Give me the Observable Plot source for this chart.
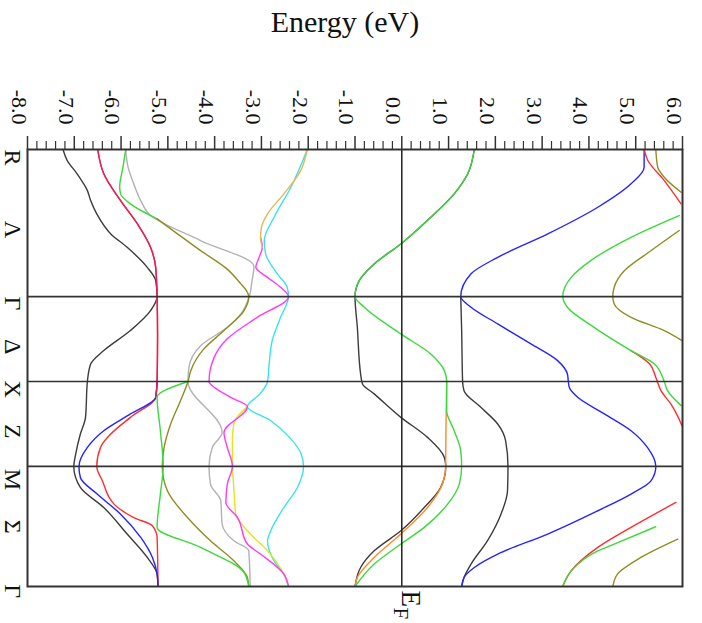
<!DOCTYPE html>
<html><head><meta charset="utf-8">
<script src="https://cdn.jsdelivr.net/npm/d3@7"></script>
<script src="https://cdn.jsdelivr.net/npm/@observablehq/plot@0.6"></script>
<style>body{margin:0;background:#fff}</style>
</head><body><div id="chart"></div>
<script>
// ---- k-path (units of 2π/a): R, Γ, X, M, Γ ----
const kLines = [0.866, 1.366, 1.866];
const kEnd = 2.573;
const kLabelNames = ["R","Λ","Γ","Δ","X","Z","M","Σ","Γ"];
const kLabelPos = [0, 0.42, 0.866, 1.116, 1.36, 1.616, 1.88, 2.18, 2.56];
const energyTicks = [-8,-7,-6,-5,-4,-3,-2,-1,0,1,2,3,4,5,6];
const title = "Energy (eV)";

// ---- bands: [k, E(eV)] ----
const blackLow = [[0,-7.24],[0.065,-7.15],[0.143,-6.94],[0.242,-6.72],[0.301,-6.65],[0.379,-6.52],[0.497,-6.22],[0.576,-5.87],[0.694,-5.44],[0.772,-5.26],[0.866,-5.23],[0.949,-5.37],[1.066,-5.80],[1.184,-6.37],[1.263,-6.65],[1.366,-6.72],[1.577,-6.76],[1.675,-6.87],[1.793,-6.97],[1.866,-7.01],[1.990,-6.87],[2.108,-6.37],[2.264,-5.87],[2.402,-5.44],[2.500,-5.23],[2.573,-5.21]];
const redLow = [[0,-6.50],[0.143,-6.37],[0.301,-6.01],[0.438,-5.65],[0.576,-5.37],[0.694,-5.26],[0.866,-5.23],[1.100,-5.22],[1.366,-5.23],[1.459,-5.26],[1.577,-5.80],[1.675,-6.22],[1.754,-6.44],[1.866,-6.52],[1.950,-6.40],[2.088,-6.15],[2.167,-5.73],[2.215,-5.33],[2.284,-5.23],[2.573,-5.21]];
const crimsonLow = [[0,-6.50],[0.143,-6.37],[0.301,-6.01],[0.438,-5.65],[0.576,-5.37],[0.694,-5.26],[0.866,-5.23],[1.100,-5.22],[1.366,-5.23],[1.459,-5.26]];
const blueLow = [[1.366,-5.23],[1.459,-5.26],[1.557,-5.80],[1.656,-6.37],[1.754,-6.72],[1.866,-6.90],[1.931,-6.87],[2.029,-6.51],[2.147,-6.01],[2.284,-5.58],[2.402,-5.33],[2.500,-5.23],[2.573,-5.21]];
const greenFromR = [[0,-5.90],[0.104,-5.96],[0.222,-6.03],[0.261,-6.01],[0.320,-5.80],[0.408,-5.23]];
const oliveMid = [[0.408,-5.23],[0.500,-4.78],[0.595,-4.30],[0.700,-3.75],[0.791,-3.44],[0.831,-3.32],[0.866,-3.27],[0.949,-3.37],[1.066,-3.80],[1.174,-4.23],[1.302,-4.51],[1.366,-4.57],[1.479,-4.73],[1.616,-4.94],[1.754,-5.08],[1.866,-5.12],[2.009,-5.01],[2.167,-4.58],[2.304,-4.09],[2.422,-3.59],[2.520,-3.30],[2.573,-3.27]];
const grayMid = [[0,-5.90],[0.104,-5.85],[0.202,-5.73],[0.301,-5.58],[0.389,-5.37],[0.536,-4.30],[0.689,-3.16],[0.772,-3.20],[0.866,-3.26],[0.968,-3.44],[1.047,-3.73],[1.155,-4.30],[1.283,-4.55],[1.366,-4.57],[1.666,-3.84],[1.754,-4.05],[1.866,-4.12],[1.970,-4.09],[2.068,-3.87],[2.205,-3.84],[2.304,-3.59],[2.363,-3.27],[2.573,-3.24]];
const greenMid = [[1.366,-4.57],[1.459,-5.23],[1.656,-5.16],[1.866,-5.10],[2.029,-5.16],[2.225,-5.23],[2.343,-4.30],[2.491,-3.37],[2.573,-3.27]];
const cyanMid = [[0,-2.02],[0.222,-2.37],[0.399,-2.73],[0.536,-2.94],[0.615,-2.91],[0.732,-2.66],[0.811,-2.45],[0.866,-2.42],[0.988,-2.59],[1.125,-2.77],[1.283,-2.84],[1.366,-2.87],[1.439,-3.03],[1.514,-3.30],[1.597,-2.80],[1.695,-2.40],[1.793,-2.15],[1.866,-2.10],[1.990,-2.23],[2.108,-2.52],[2.245,-2.80],[2.304,-2.87],[2.422,-2.73],[2.500,-2.52],[2.573,-2.42]];
const tanMid = [[0,-2.02],[0.124,-2.16],[0.261,-2.52],[0.379,-2.87],[0.458,-3.00],[0.517,-3.02],[0.576,-2.98]];
const magentaMid = [[0.517,-3.02],[0.576,-2.98],[0.635,-3.05],[0.694,-3.12],[0.753,-2.87],[0.811,-2.59],[0.866,-2.42],[0.988,-3.09],[1.115,-3.73],[1.224,-4.01],[1.366,-4.12],[1.400,-4.01],[1.459,-3.66],[1.514,-3.30],[1.666,-3.80],[1.754,-3.73],[1.866,-3.62],[1.970,-3.73],[2.078,-3.76],[2.167,-3.51],[2.323,-3.30],[2.382,-3.02],[2.500,-2.52],[2.573,-2.42]];
const yellowMid = [[1.514,-3.30],[1.616,-3.59],[1.715,-3.62],[1.866,-3.62],[1.990,-3.59],[2.147,-3.55],[2.245,-3.30],[2.363,-2.87],[2.500,-2.52],[2.573,-2.42]];
const blackF = [[0,1.55],[0.143,1.41],[0.261,1.12],[0.399,0.62],[0.556,-0.02],[0.674,-0.59],[0.772,-0.91],[0.866,-1.00],[1.047,-0.95],[1.322,-0.88],[1.380,-0.84],[1.439,-0.59],[1.577,-0.02],[1.695,0.55],[1.813,0.91],[1.866,0.94],[1.990,0.83],[2.108,0.48],[2.245,-0.02],[2.363,-0.59],[2.461,-0.88],[2.573,-1.00]];
const orangeF = [[1.366,0.96],[1.538,0.95],[1.813,0.94],[1.866,0.94],[1.970,0.87],[2.108,0.55],[2.264,-0.02],[2.402,-0.59],[2.520,-0.95],[2.573,-1.00]];
const greenF = [[0,1.55],[0.143,1.41],[0.261,1.12],[0.399,0.62],[0.556,-0.02],[0.674,-0.59],[0.772,-0.91],[0.866,-1.00],[0.929,-0.80],[1.086,-0.02],[1.204,0.62],[1.302,0.91],[1.366,0.96],[1.538,0.96],[1.656,1.12],[1.774,1.26],[1.866,1.28],[1.970,1.23],[2.088,0.98],[2.225,0.48],[2.323,-0.02],[2.441,-0.59],[2.573,-1.00]];
const blackU = [[0.866,1.26],[1.066,1.28],[1.366,1.30],[1.420,1.33],[1.518,1.69],[1.616,2.05],[1.715,2.22],[1.866,2.27],[2.009,2.26],[2.147,2.12],[2.304,1.83],[2.441,1.48],[2.520,1.33],[2.573,1.28]];
const blueU = [[0,5.18],[0.104,5.18],[0.202,4.90],[0.340,4.19],[0.497,3.12],[0.635,2.05],[0.732,1.48],[0.866,1.26],[0.929,1.48],[1.027,2.05],[1.145,2.76],[1.243,3.33],[1.322,3.54],[1.366,3.56],[1.400,3.58],[1.459,3.76],[1.557,4.33],[1.656,4.90],[1.754,5.25],[1.866,5.43],[1.950,5.33],[2.029,4.90],[2.127,4.19],[2.264,3.12],[2.382,2.05],[2.461,1.55],[2.520,1.33],[2.573,1.28]];
const redU1 = [[0,5.18],[0.065,5.26],[0.183,5.61],[0.320,5.97]];
const redU2 = [[1.184,4.90],[1.263,5.30],[1.342,5.43],[1.420,5.54],[1.498,5.75],[1.626,5.99]];
const redU3 = [[2.078,5.86],[2.225,4.90],[2.343,4.19],[2.481,3.62],[2.573,3.44]];
const greenU1 = [[0.389,5.93],[0.517,4.90],[0.654,4.04],[0.753,3.62],[0.866,3.44],[0.929,3.54],[1.047,4.11],[1.184,4.90],[1.263,5.40],[1.366,5.61],[1.420,5.68],[1.508,5.97]];
const greenU2 = [[2.221,5.43],[2.323,4.54],[2.363,4.19],[2.481,3.62],[2.573,3.44]];
const oliveU1 = [[0,5.43],[0.104,5.47],[0.163,5.61],[0.252,5.97]];
const oliveU2 = [[0.477,5.93],[0.595,5.33],[0.713,4.76],[0.811,4.54],[0.866,4.51],[0.909,4.54],[0.988,4.90],[1.066,5.61],[1.125,5.99]];
const oliveU3 = [[2.294,5.90],[2.402,5.11],[2.500,4.61],[2.573,4.51]];

const C = {black:"#3c3c3c", red:"#ff2e2e", crimson:"#e2205e", blue:"#2424ff", green:"#3cd83c",
  olive:"#8e8e22", gray:"#b2b2b2", cyan:"#3ae4e4", magenta:"#ff38ff", yellow:"#e4e41c",
  tan:"#e6b65a", orange:"#ff8a2a"};

const bands = [
  [blackLow, C.black], [redLow, C.red], [blueLow, C.blue], [crimsonLow, C.crimson],
  [grayMid, C.gray], [greenFromR, C.green], [oliveMid, C.olive], [greenMid, C.green],
  [cyanMid, C.cyan], [yellowMid, C.yellow], [magentaMid, C.magenta], [tanMid, C.tan],
  [blackF, C.black], [orangeF, C.orange], [greenF, C.green],
  [blackU, C.black], [blueU, C.blue], [redU1, C.red], [redU2, C.red], [redU3, C.red],
  [greenU1, C.green], [greenU2, C.green], [oliveU1, C.olive], [oliveU2, C.olive], [oliveU3, C.olive]
];

const minorTicks = d3.range(-80, 61, 2).map(v => v / 10).filter(v => !energyTicks.includes(v));
const serif = "'Liberation Serif','Times New Roman',Times,serif";
const ink = "#333";

const chart = Plot.plot({
  width: 702, height: 623,
  marginTop: 149, marginLeft: 27, marginRight: 20, marginBottom: 37,
  x: {domain: [-8, 6], axis: null},
  y: {domain: [0, kEnd], reverse: true, axis: null},
  style: {fontFamily: serif, background: "#fff", color: "#111"},
  marks: [
    ...bands.map(([pts, color]) => Plot.line(pts, {x: d => d[1], y: d => d[0], stroke: color, strokeWidth: 1.4, curve: "monotone-y", clip: true})),
    Plot.ruleY(kLines, {stroke: ink, strokeWidth: 1.7}),
    Plot.ruleX([0], {stroke: "#222", strokeWidth: 1.5}),
    Plot.frame({stroke: ink, strokeWidth: 2}),
    Plot.axisX({anchor: "top", ticks: minorTicks, tickSize: 9, tickFormat: () => "", label: null, stroke: ink, strokeWidth: 1.2}),
    Plot.axisX({anchor: "top", ticks: energyTicks, tickSize: 14, tickFormat: () => "", label: null, stroke: ink, strokeWidth: 1.5}),
    Plot.text(energyTicks, {x: d => d, text: d => d.toFixed(1), frameAnchor: "top", dy: -25, rotate: 90, textAnchor: "end", fontSize: 22, fill: "#111"}),
    Plot.text(kLabelNames, {y: (d, i) => kLabelPos[i], text: d => d, frameAnchor: "left", dx: -15, rotate: 90, fontSize: 24, fill: "#111"}),
    Plot.text([title], {frameAnchor: "top", dx: -10, dy: -118, lineAnchor: "bottom", fontSize: 30, fill: "#111"}),
    Plot.text([{E: 0, t: "E"}], {x: "E", text: "t", frameAnchor: "bottom", dy: 4, rotate: 90, textAnchor: "start", fontSize: 27, fill: "#111"}),
    Plot.text([{E: 0, t: "F"}], {x: "E", text: "t", frameAnchor: "bottom", dx: -8, dy: 21, rotate: 90, textAnchor: "start", fontSize: 21, fill: "#111"})
  ]
});
document.getElementById("chart").appendChild(chart);
</script>
</body></html>
